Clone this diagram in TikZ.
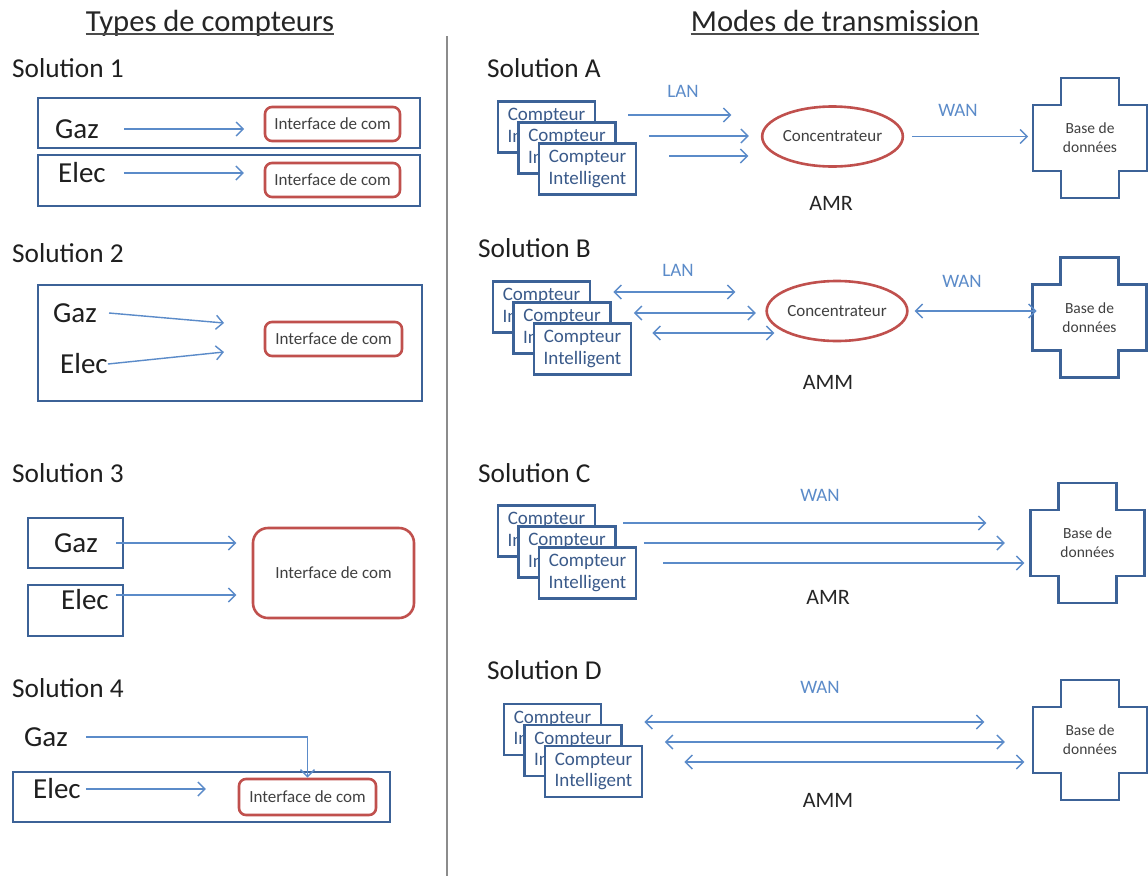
\documentclass[tikz,border=0pt]{standalone}
\usepackage{fontspec}
\setmainfont{Carlito}
\usetikzlibrary{arrows.meta,shapes.geometric,calc}
\definecolor{boxblue}{HTML}{3C6297}
\definecolor{arrblue}{HTML}{5B8BC9}
\definecolor{boxred}{HTML}{C0504D}
\definecolor{txtgray}{HTML}{404040}
\definecolor{cblue}{HTML}{3A5A8A}
\definecolor{divgray}{HTML}{8C8C8C}
\newcommand\dbshape[1]{\draw[draw=boxblue,line width=2.6pt,line join=miter] ([shift={(-29,-60)}]#1.center) -- ++(58,0) -- ++(0,27) -- ++(28,0) -- ++(0,66) -- ++(-28,0) -- ++(0,27) -- ++(-58,0) -- ++(0,-27) -- ++(-28,0) -- ++(0,-66) -- ++(28,0) -- cycle;}
\newcommand\cstack[3]{%
\node[cmp] (#1a) at (#2,#3) {Compteur\\Intelligent};
\node[cmp] (#1b) at ($(#1a)+(20.5,21)$) {Compteur\\Intelligent};
\node[cmp] (#1c) at ($(#1b)+(20.5,21)$) {Compteur\\Intelligent};}
\begin{document}
\begin{tikzpicture}[x=1pt,y=-1pt,
  bluebox/.style={draw=boxblue, line width=2.6pt, fill=white, inner sep=0pt},
  redbox/.style={draw=boxred, line width=2.6pt, rounded corners=7pt, fill=white, inner sep=0pt, font=\fontsize{17}{20}\selectfont, text=txtgray},
  arr/.style={draw=arrblue, line width=1.4pt, -{Straight Barb[length=7pt,width=14pt]}},
  darr/.style={draw=arrblue, line width=1.4pt, {Straight Barb[length=7pt,width=14pt]}-{Straight Barb[length=7pt,width=14pt]}},
  sol/.style={anchor=west, font=\fontsize{27.3}{31}\selectfont, text=black!88, inner sep=0pt},
  big/.style={font=\fontsize{29}{33}\selectfont, text=black!88, inner sep=0pt},
  titl/.style={anchor=base, font=\fontsize{30.6}{35}\selectfont, text=black!85, inner sep=0pt},
  cmp/.style={bluebox, minimum width=97pt, minimum height=51pt, align=center, font=\fontsize{19}{21.5}\selectfont, text=cblue},
  lbl/.style={font=\fontsize{19}{22}\selectfont, text=arrblue, inner sep=0pt},
  mode/.style={font=\fontsize{22}{26}\selectfont, text=black!85, inner sep=0pt},
  db/.style={minimum width=114pt, minimum height=120pt, align=center, font=\fontsize{15.5}{19}\selectfont, text=txtgray, inner sep=0pt},
  conc/.style={ellipse, draw=boxred, line width=2.6pt, minimum width=126pt, minimum height=60pt, font=\fontsize{17}{20}\selectfont, text=txtgray, inner sep=0pt}
]
\useasboundingbox (0,0) rectangle (1148,876);
\fill[white] (0,0) rectangle (1148,876);

% titles and divider
\node[titl] (t1) at (210,31) {Types de compteurs};
\draw[line width=1.8pt, black!70] ([yshift=-3pt]t1.base west) -- ([yshift=-3pt]t1.base east);
\node[titl] (t2) at (835,31) {Modes de transmission};
\draw[line width=1.8pt, black!70] ([yshift=-3pt]t2.base west) -- ([yshift=-3pt]t2.base east);
\draw[divgray, line width=2pt] (447,36) -- (447,876);

% ---------- Solution 1
\node[sol] (s1) at (12,68) {Solution 1};
\node[bluebox, minimum width=382pt, minimum height=50pt] (b1g) at (229,123) {};
\node[bluebox, minimum width=382pt, minimum height=51pt] (b1e) at (229,180.5) {};
\node[big] (g1) at (77,129) {Gaz};
\node[big] (e1) at (82,173) {Elec};
\node[redbox, minimum width=135pt, minimum height=34pt] (r1g) at (332.5,124) {Interface de com};
\node[redbox, minimum width=135pt, minimum height=34pt] (r1e) at (332.5,180) {Interface de com};
\draw[arr] ([xshift=25pt]g1.east) -- ++(120,0);
\draw[arr] ([xshift=18pt]e1.east) -- ++(120,0);

% ---------- Solution 2
\node[sol] (s2) at (12,253) {Solution 2};
\node[bluebox, minimum width=384pt, minimum height=116pt] (b2) at (230,343) {};
\node[big] (g2) at (75,313) {Gaz};
\node[big] (e2) at (84,364) {Elec};
\node[redbox, minimum width=137pt, minimum height=34pt] (r2) at (333.5,339) {Interface de com};
\draw[arr] ([xshift=12pt]g2.east) -- ++(115,10);
\draw[arr] ([xshift=0pt]e2.east) -- ++(116,-12);

% ---------- Solution 3
\node[sol] (s3) at (12,473) {Solution 3};
\node[bluebox, minimum width=95pt, minimum height=50pt] (b3g) at (75.5,543) {};
\node[bluebox, minimum width=95pt, minimum height=51pt] (b3e) at (75.5,610.5) {};
\node[big] (g3) at (76,543) {Gaz};
\node[big] (e3) at (85,600) {Elec};
\node[redbox, rounded corners=15pt, minimum width=161pt, minimum height=90pt] (r3) at (333.5,573) {Interface de com};
\draw[arr] ([xshift=-8pt]b3g.east) -- ++(120,0);
\draw[arr] ([shift={(-8,-15.5)}]b3e.east) -- ++(120,0);

% ---------- Solution 4
\node[sol] (s4) at (12,688) {Solution 4};
\node[bluebox, minimum width=377pt, minimum height=50pt] (b4) at (201.5,797) {};
\node[big] (g4) at (46,737) {Gaz};
\node[big] (e4) at (57,789) {Elec};
\node[redbox, minimum width=137pt, minimum height=36pt] (r4) at (307.5,797) {Interface de com};
\draw[arr] ([xshift=18pt]g4.east) -| (r4.north);
\draw[arr] ([xshift=5pt]e4.east) -- ++(120,0);

% ---------- Solution A
\node[sol] (sA) at (487,68) {Solution A};
\cstack{A}{546.5}{127}
\node[conc] (conA) at (832.5,136.5) {Concentrateur};
\node[db] (dbA) at (1090,138) {Base de\\données};
\dbshape{dbA}
\node[lbl] (lanA) at (683,91) {LAN};
\node[lbl] (wanA) at (958,110) {WAN};
\node[mode] (mA) at (831,203) {AMR};
\draw[arr] ([shift={(32,-12)}]Aa.east) -- ++(103,0);
\draw[arr] ([shift={(32,-12)}]Ab.east) -- ++(100,0);
\draw[arr] ([shift={(32,-13)}]Ac.east) -- ++(79,0);
\draw[arr] ([xshift=8pt]conA.east) -- ++(116,0);

% ---------- Solution B
\node[sol] (sB) at (478,248) {Solution B};
\cstack{B}{541.5}{307}
\node[conc] (conB) at (837,311) {Concentrateur};
\node[db] (dbB) at (1089.5,317.5) {Base de\\données};
\dbshape{dbB}
\node[lbl] (lanB) at (678,270) {LAN};
\node[lbl] (wanB) at (962,281) {WAN};
\node[mode] (mB) at (828,382) {AMM};
\draw[darr] ([shift={(22,-15)}]Ba.east) -- ++(122,0);
\draw[darr] ([shift={(22,-15)}]Bb.east) -- ++(122,0);
\draw[darr] ([shift={(20,-16)}]Bc.east) -- ++(122,0);
\draw[darr] ([xshift=6pt]conB.east) -- ++(122,0);

% ---------- Solution C
\node[sol] (sC) at (478,473) {Solution C};
\cstack{C}{546.5}{531}
\node[db] (dbC) at (1087.5,543) {Base de\\données};
\dbshape{dbC}
\node[lbl] (wanC) at (820,495) {WAN};
\node[mode] (mC) at (828,597) {AMR};
\draw[arr] ([shift={(27,-8)}]Ca.east) -- ++(363,0);
\draw[arr] ([shift={(27,-9)}]Cb.east) -- ++(361,0);
\draw[arr] ([shift={(26,-10)}]Cc.east) -- ++(361,0);

% ---------- Solution D
\node[sol] (sD) at (487,670) {Solution D};
\cstack{D}{552.5}{729.5}
\node[db] (dbD) at (1090,740) {Base de\\données};
\dbshape{dbD}
\node[lbl] (wanD) at (820,687) {WAN};
\node[mode] (mD) at (828,800) {AMM};
\draw[darr] ([shift={(42,-7.5)}]Da.east) -- ++(340,0);
\draw[darr] ([shift={(42,-8.5)}]Db.east) -- ++(340,0);
\draw[darr] ([shift={(41,-9.5)}]Dc.east) -- ++(340,0);
\end{tikzpicture}
\end{document}
